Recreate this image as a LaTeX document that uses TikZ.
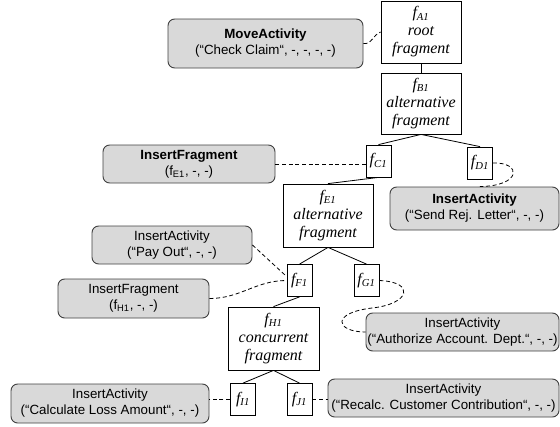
\documentclass[tikz,border=0pt]{standalone}
\usepackage{fontspec}
\setmainfont{Liberation Serif}
\setsansfont{Liberation Sans}
\newcommand\fr[1]{f\textsubscript{#1}}
\begin{document}
\begin{tikzpicture}[x=0.75pt,y=-0.75pt,
  frag/.style={draw=black, line width=0.6pt, fill=white, inner sep=0pt,
    align=center, font=\fontsize{12}{13.5}\selectfont\itshape},
  op/.style={draw=black!75, line width=0.7pt, fill=black!15, rounded corners=5pt,
    inner sep=0pt, align=center, font=\sffamily\fontsize{10}{12}\selectfont},
  small/.style={minimum width=18.75pt, minimum height=24pt},
  link/.style={line width=0.6pt},
  tie/.style={line width=0.6pt, dash pattern=on 3pt off 2pt}]
\useasboundingbox (0,0) rectangle (560,426);

% process fragments
\node[frag, minimum width=60pt, minimum height=46.5pt] (fA) at (421,32) {\fr{A1}\\root\\fragment};
\node[frag, minimum width=60pt, minimum height=45.75pt] (fB) at (421,103.5) {\fr{B1}\\alternative\\fragment};
\node[frag, small] (fC) at (378.5,161) {\fr{C1}};
\node[frag, small] (fD) at (480,163) {\fr{D1}};
\node[frag, minimum width=67.5pt, minimum height=47.25pt] (fE) at (328,215.5) {\fr{E1}\\alternative\\fragment};
\node[frag, small] (fF) at (299.5,280.5) {\fr{F1}};
\node[frag, small] (fG) at (366.5,280.5) {\fr{G1}};
\node[frag, minimum width=68.25pt, minimum height=47.25pt] (fH) at (273.5,338.5) {\fr{H1}\\concurrent\\fragment};
\node[frag, small] (fI) at (243,399.5) {\fr{I1}};
\node[frag, small] (fJ) at (299.5,399.5) {\fr{J1}};

% change operations
\node[op, minimum width=146.25pt, minimum height=36.75pt] (mv) at (265.5,43.5)
  {\textbf{MoveActivity}\\(“Check Claim“, -, -, -, -)};
\node[op, minimum width=129pt, minimum height=28.5pt] (if1) at (189,164)
  {\textbf{InsertFragment}\\(f\textsubscript{E1}, -, -)};
\node[op, minimum width=126.75pt, minimum height=32.25pt] (sr) at (474.5,208.5)
  {\textbf{InsertActivity}\\(“Send Rej. Letter“, -, -)};
\node[op, minimum width=120pt, minimum height=28.5pt] (po) at (172,245)
  {InsertActivity\\(“Pay Out“, -, -)};
\node[op, minimum width=113.25pt, minimum height=29.25pt] (if2) at (133.5,298.5)
  {InsertFragment\\(f\textsubscript{H1}, -, -)};
\node[op, minimum width=144.75pt, minimum height=28.5pt] (au) at (462.5,332)
  {InsertActivity\\(“Authorize Account. Dept.“, -, -)};
\node[op, minimum width=148.5pt, minimum height=29.25pt] (cl) at (110,403.5)
  {InsertActivity\\(“Calculate Loss Amount“, -, -)};
\node[op, minimum width=173.25pt, minimum height=28.5pt] (rc) at (443.5,398)
  {InsertActivity\\(“Recalc. Customer Contribution“, -, -)};

% fragment tree
\draw[link] (fA.south) -- (fB.north);
\draw[link] (fB.south) -- (fC.north);
\draw[link] (fB.south) -- (fD.north);
\draw[link] (fC.south) -- (fE.north);
\draw[link] (fE.south) -- (fF.north);
\draw[link] (fE.south) -- (fG.north);
\draw[link] (fF.south) -- (fH.north);
\draw[link] (fH.south) -- (fI.north);
\draw[link] (fH.south) -- (fJ.north);

% operation attachments
\draw[tie] (mv.east) to[out=-10,in=200] (fA.west);
\draw[tie] (if1.east) -- (if1.east -| fC.west);
\draw[tie] (fD.east) .. controls (522,162) and (522,186) .. ([xshift=4pt]sr.north);
\draw[tie] (po.east) -- ([yshift=3pt]fF.west);
\draw[tie] (if2.east) to[out=0,in=180] (fF.west);
\draw[tie] (fG.east) .. controls (416,282) and (410,304) .. (372,308)
  .. controls (330,313) and (336,332) .. (au.west);
\draw[tie] (fI.west) -- (fI.west -| cl.east);
\draw[tie] (fJ.east) -- (fJ.east -| rc.west);
\end{tikzpicture}
\end{document}
